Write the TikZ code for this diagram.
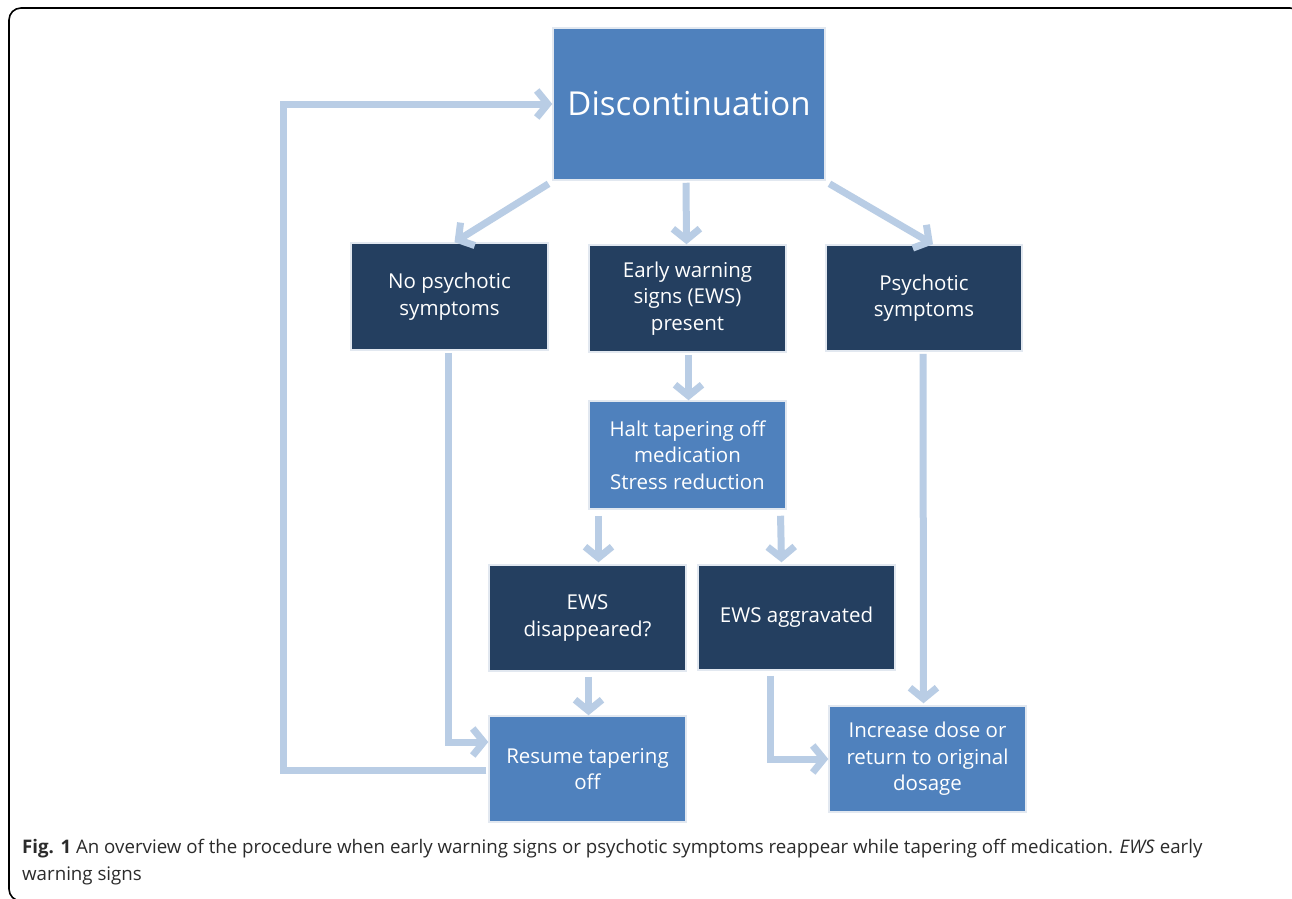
\documentclass[tikz,border=0pt]{standalone}
\usepackage{fontspec}
\setmainfont{Open Sans}
\usetikzlibrary{arrows.meta,calc}
\definecolor{midblue}{HTML}{4F81BD}
\definecolor{darkblue}{HTML}{243F60}
\definecolor{arrblue}{HTML}{B9CDE5}
\definecolor{boxedge}{HTML}{E2E8F0}
\definecolor{captext}{HTML}{2B2B2B}
\tikzset{
  boxbase/.style={draw=boxedge, line width=1.5pt, text=white, align=center, inner sep=0pt, font=\fontsize{20.5}{26.5}\selectfont},
  lightbox/.style={boxbase, fill=midblue},
  darkbox/.style={boxbase, fill=darkblue},
  arr/.style={draw=arrblue, line width=7pt, line join=miter, shorten <=2pt,
     -{Straight Barb[length=11pt,width=27pt,line width=7pt]}},
}
\begin{document}
\begin{tikzpicture}[x=1pt,y=-1pt]
\useasboundingbox (0,0) rectangle (1292,898);
\fill[white] (0,0) rectangle (1292,898);
\draw[black, line width=1.6pt, rounded corners=12pt] (9,8) rectangle (1302,901);

\node[lightbox, minimum width=272pt, minimum height=152pt, font=\fontsize{33}{38}\selectfont] (disc) at (689,104) {Discontinuation};
\node[darkbox, minimum width=197pt, minimum height=107pt] (nops) at (449.5,296.5) {No psychotic\\symptoms};
\node[darkbox, minimum width=197pt, minimum height=107pt] (ews) at (687.5,298.5) {Early warning\\signs (EWS)\\present};
\node[darkbox, minimum width=196pt, minimum height=106pt] (ps) at (924,298) {Psychotic\\symptoms};
\node[lightbox, minimum width=197pt, minimum height=108pt] (halt) at (687.5,455) {Halt tapering off\\medication\\Stress reduction};
\node[darkbox, minimum width=197pt, minimum height=106pt] (dis) at (587.5,618) {EWS\\disappeared?};
\node[darkbox, minimum width=197pt, minimum height=105pt] (agg) at (796.5,617.5) {EWS aggravated};
\node[lightbox, minimum width=197pt, minimum height=106pt] (res) at (587.5,769) {Resume tapering\\off};
\node[lightbox, minimum width=197pt, minimum height=106pt] (inc) at (927.5,759) {Increase dose or\\return to original\\dosage};

\draw[arr] ($(disc.south west)+(-2,2)$) -- ($(nops.north)+(5,0)$);
\draw[arr] ($(disc.south)+(-3,0)$) -- ($(ews.north)+(-1,0)$);
\draw[arr] ($(disc.south east)+(2,2)$) -- ($(ps.north)+(9,0)$);
\draw[arr] ($(ews.south)+(1,0)$) -- ($(halt.north)+(1,0)$);
\draw[arr] ($(halt.south)+(-89,4)$) -- ($(dis.north)+(11,-2)$);
\draw[arr] ($(halt.south)+(93,4)$) -- ($(agg.north)+(-15,-2)$);
\draw[arr] ($(dis.south)+(1,3)$) -- ($(res.north)+(1,0)$);
\draw[arr] ($(ps.south)+(-1,0)$) -- ($(inc.north)+(-4,-2)$);
\draw[arr] ($(nops.south)+(-1,0)$) |- ($(res.west)+(0,-27)$);
\draw[arr] ($(agg.south)+(-26,3)$) |- (inc.west);
\draw[arr] ($(res.west)+(0,1)$) -- (283,770) |- (disc.west);

\node[anchor=base west, text=captext, align=left, font=\fontsize{18.7}{27}\selectfont, inner sep=0pt] (cap) at (22,880)
  {\textbf{Fig. 1} An overview of the procedure when early warning signs or psychotic symptoms reappear while tapering off medication. \textit{EWS} early\\warning signs};
\end{tikzpicture}
\end{document}
